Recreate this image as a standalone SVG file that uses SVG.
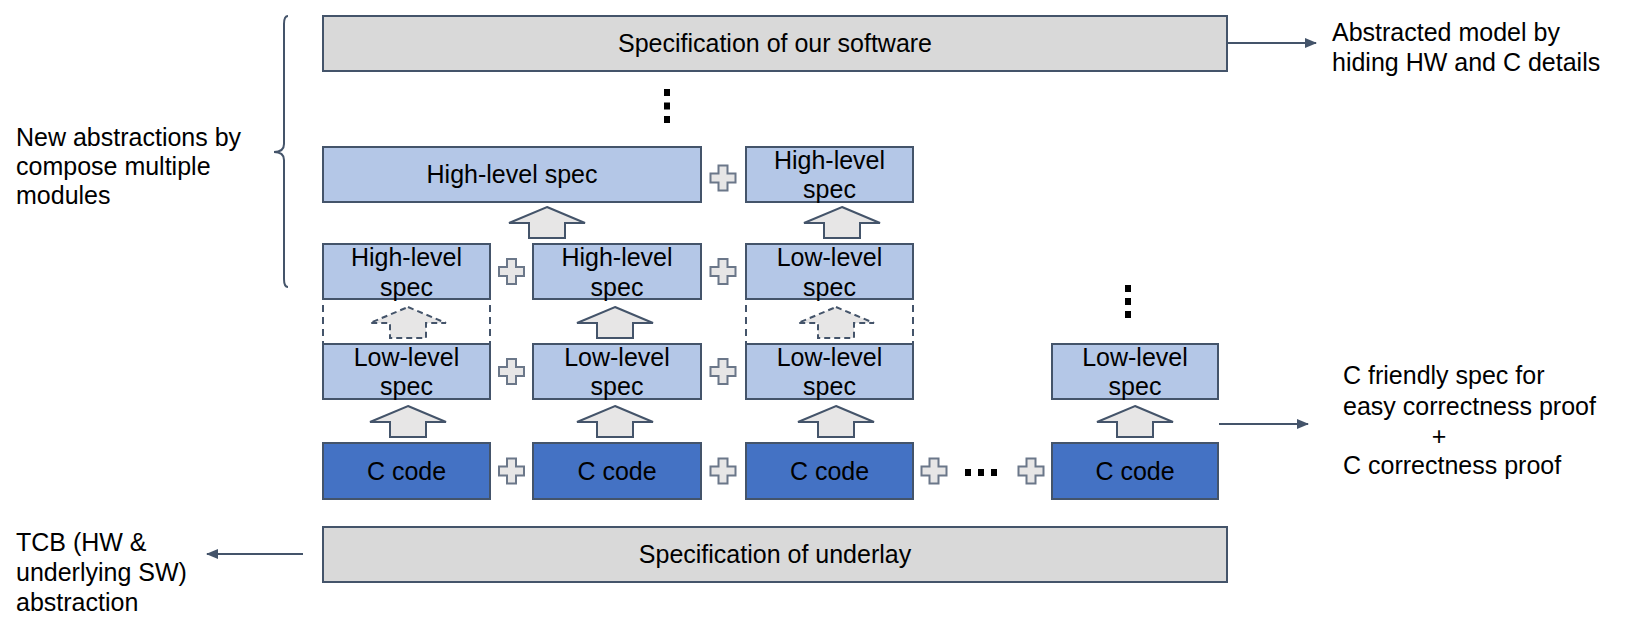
<svg xmlns="http://www.w3.org/2000/svg" xmlns:xlink="http://www.w3.org/1999/xlink" width="1637" height="629" viewBox="0 0 1637 629">
<style>
text{font-family:"Liberation Sans",Arial,sans-serif;font-size:25px;fill:#000}
.c{text-anchor:middle}
.gray{fill:#d9d9d9;stroke:#44546a;stroke-width:2}
.lb{fill:#b4c7e7;stroke:#44546a;stroke-width:2}
.db{fill:#4472c4;stroke:#44546a;stroke-width:2}
.ba{fill:#e7e6e6;stroke:#44546a;stroke-width:2}
.bad{fill:#e7e6e6;stroke:#44546a;stroke-width:2;stroke-dasharray:6 4}
.dash{fill:none;stroke:#44546a;stroke-width:2;stroke-dasharray:7 5}
.pl{fill:#e7e6e6;stroke:#6b7789;stroke-width:2}
.ln{fill:none;stroke:#44546a;stroke-width:2}
.dot{fill:#000}
</style>
<defs>
<marker id="ah" markerWidth="12" markerHeight="10" refX="11" refY="5" orient="auto" markerUnits="userSpaceOnUse">
<path d="M0,0 L12,5 L0,10 Z" fill="#44546a"/>
</marker>
<path id="plus" d="M-4.5,-12.5 h9 v8 h8 v9 h-8 v8 h-9 v-8 h-8 v-9 h8 Z"/>
<path id="barrow" d="M0,0 L38,16 L18,16 L18,31 L-18,31 L-18,16 L-38,16 Z"/>
</defs>

<g id="dashed-frames">
<rect class="dash" x="323" y="244" width="167" height="155"/>
<rect class="dash" x="746" y="244" width="167" height="155"/>
</g>

<g id="spec-software"><rect class="gray" x="323" y="16" width="904" height="55"/><text class="c" x="775" y="52">Specification of our software</text></g>

<g id="hl-wide"><rect class="lb" x="323" y="147" width="378" height="55"/><text class="c" x="512" y="183">High-level spec</text></g>
<g id="hl-small"><rect class="lb" x="746" y="147" width="167" height="55"/><text class="c" x="829.5" y="169">High-level</text><text class="c" x="829.5" y="198">spec</text></g>

<g id="r2c1"><rect class="lb" x="323" y="244" width="167" height="55"/><text class="c" x="406.5" y="266">High-level</text><text class="c" x="406.5" y="296">spec</text></g>
<g id="r2c2"><rect class="lb" x="533" y="244" width="168" height="55"/><text class="c" x="617" y="266">High-level</text><text class="c" x="617" y="296">spec</text></g>
<g id="r2c3"><rect class="lb" x="746" y="244" width="167" height="55"/><text class="c" x="829.5" y="266">Low-level</text><text class="c" x="829.5" y="296">spec</text></g>

<g id="r3c1"><rect class="lb" x="323" y="344" width="167" height="55"/><text class="c" x="406.5" y="366">Low-level</text><text class="c" x="406.5" y="395">spec</text></g>
<g id="r3c2"><rect class="lb" x="533" y="344" width="168" height="55"/><text class="c" x="617" y="366">Low-level</text><text class="c" x="617" y="395">spec</text></g>
<g id="r3c3"><rect class="lb" x="746" y="344" width="167" height="55"/><text class="c" x="829.5" y="366">Low-level</text><text class="c" x="829.5" y="395">spec</text></g>
<g id="r3c4"><rect class="lb" x="1052" y="344" width="166" height="55"/><text class="c" x="1135" y="366">Low-level</text><text class="c" x="1135" y="395">spec</text></g>

<g id="c1"><rect class="db" x="323" y="443" width="167" height="56"/><text class="c" x="406.5" y="480">C code</text></g>
<g id="c2"><rect class="db" x="533" y="443" width="168" height="56"/><text class="c" x="617" y="480">C code</text></g>
<g id="c3"><rect class="db" x="746" y="443" width="167" height="56"/><text class="c" x="829.5" y="480">C code</text></g>
<g id="c4"><rect class="db" x="1052" y="443" width="166" height="56"/><text class="c" x="1135" y="480">C code</text></g>

<g id="spec-underlay"><rect class="gray" x="323" y="527" width="904" height="55"/><text class="c" x="775" y="563">Specification of underlay</text></g>

<g id="connectors">
<line class="ln" x1="1227" y1="43" x2="1316" y2="43" marker-end="url(#ah)"/>
<line class="ln" x1="1219" y1="424" x2="1308" y2="424" marker-end="url(#ah)"/>
<line class="ln" x1="303" y1="554" x2="207" y2="554" marker-end="url(#ah)"/>
<use xlink:href="#barrow" class="ba" transform="translate(547,207)"/>
<use xlink:href="#barrow" class="ba" transform="translate(842,207)"/>
<use xlink:href="#barrow" class="bad" transform="translate(408,307)"/>
<use xlink:href="#barrow" class="ba" transform="translate(615,307)"/>
<use xlink:href="#barrow" class="bad" transform="translate(836,307)"/>
<use xlink:href="#barrow" class="ba" transform="translate(408,406)"/>
<use xlink:href="#barrow" class="ba" transform="translate(615,406)"/>
<use xlink:href="#barrow" class="ba" transform="translate(836,406)"/>
<use xlink:href="#barrow" class="ba" transform="translate(1135,406)"/>
</g>

<g id="plus-signs" class="pl">
<use xlink:href="#plus" transform="translate(723,178)"/>
<use xlink:href="#plus" transform="translate(511.5,271.5)"/>
<use xlink:href="#plus" transform="translate(723,271.5)"/>
<use xlink:href="#plus" transform="translate(511.5,371.5)"/>
<use xlink:href="#plus" transform="translate(723,371.5)"/>
<use xlink:href="#plus" transform="translate(511.5,471)"/>
<use xlink:href="#plus" transform="translate(723,471)"/>
<use xlink:href="#plus" transform="translate(934,471)"/>
<use xlink:href="#plus" transform="translate(1031,471)"/>
</g>

<g id="ellipses" class="dot">
<rect x="664" y="89" width="6" height="7"/><rect x="664" y="102.5" width="6" height="7"/><rect x="664" y="116" width="6" height="7"/>
<rect x="1125" y="285" width="6" height="7"/><rect x="1125" y="298" width="6" height="7"/><rect x="1125" y="311" width="6" height="7"/>
<rect x="965" y="469" width="6" height="7"/><rect x="978" y="469" width="6" height="7"/><rect x="991" y="469" width="6" height="7"/>
</g>

<g id="brace"><path class="ln" d="M288,16 Q284,16 284,24 L284,144 Q284,152 274,152 Q284,152 284,160 L284,279 Q284,287 288,287"/></g>

<g id="label-left"><text x="16" y="146">New abstractions by</text><text x="16" y="175">compose multiple</text><text x="16" y="204">modules</text></g>
<g id="label-top-right"><text x="1332" y="41">Abstracted model by</text><text x="1332" y="71">hiding HW and C details</text></g>
<g id="label-right"><text x="1343" y="384">C friendly spec for</text><text x="1343" y="415">easy correctness proof</text><text class="c" x="1439" y="445">+</text><text x="1343" y="474">C correctness proof</text></g>
<g id="label-tcb"><text x="16" y="551">TCB (HW &amp;</text><text x="16" y="581">underlying SW)</text><text x="16" y="611">abstraction</text></g>
</svg>
